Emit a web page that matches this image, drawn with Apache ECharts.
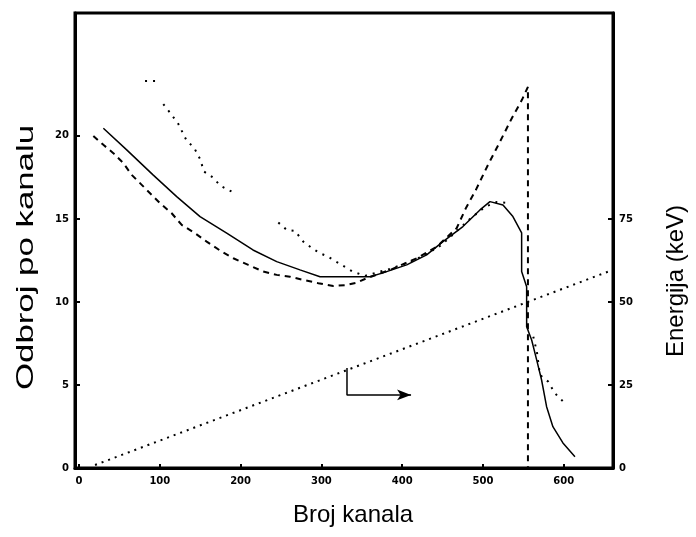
<!DOCTYPE html>
<html>
<head>
<meta charset="utf-8">
<script src="https://cdn.jsdelivr.net/npm/echarts@6/dist/echarts.min.js"></script>
<style>html,body{margin:0;padding:0;background:#fff;}#c{width:696px;height:537px;}</style>
</head>
<body>
<div id="c"></div>
<script>
// Tick labels
var xTicks = [0, 100, 200, 300, 400, 500, 600];
var leftTicks = [0, 5, 10, 15, 20];
var rightTicks = [0, 25, 50, 75];

// Solid curve: counts per channel
var solidCurve = [
  [30.1, 20.46], [59.0, 19.16], [91.6, 17.65], [120.9, 16.34], [149.8, 15.14],
  [182.8, 14.14], [215.3, 13.13], [244.7, 12.43], [273.5, 11.93], [298.3, 11.52],
  [347.8, 11.52], [360.1, 11.52], [376.2, 11.75], [405.6, 12.23], [430.3, 12.83],
  [450.5, 13.63], [475.2, 14.54], [496.3, 15.54], [508.7, 16.04], [524.8, 15.84],
  [537.1, 15.14], [547.9, 14.16], [547.9, 11.83], [554.1, 10.92], [554.1, 8.51],
  [560.3, 7.71], [566.5, 6.51], [572.6, 5.30], [578.8, 3.69], [586.6, 2.49],
  [599.0, 1.51], [613.9, 0.68]
];

// Dashed curve (ends with the vertical dashed line)
var dashedCurve = [
  [17.7, 20.0], [30.1, 19.46], [42.5, 18.96], [54.8, 18.36], [65.2, 17.65],
  [77.6, 17.05], [87.9, 16.55], [100.2, 15.95], [114.7, 15.34], [127.1, 14.64],
  [143.6, 14.14], [158.0, 13.63], [176.6, 13.03], [191.0, 12.63], [209.5, 12.23],
  [228.1, 11.83], [244.7, 11.63], [261.1, 11.52], [277.6, 11.33], [296.2, 11.13],
  [314.7, 10.96], [331.3, 11.02], [343.7, 11.16], [356.1, 11.43], [385.1, 11.93],
  [418.1, 12.63], [442.9, 13.33], [467.4, 14.44], [479.0, 15.66], [491.3, 16.75],
  [506.2, 18.25], [521.0, 19.64], [535.9, 21.08], [548.3, 22.17], [555.7, 22.95],
  [555.7, 0]
];

// Sparse dotted curve
var dottedCurve = [
  [81.7, 23.31], [94.1, 23.31], null,
  [104.3, 21.91], [112.6, 21.40], [122.9, 20.72], [133.3, 19.70], [142.3, 19.30],
  [149.8, 18.61], [154.7, 17.85], [164.2, 17.55], [175.4, 16.99], [184.8, 16.75],
  [194.3, 16.51], null,
  [246.7, 14.78], [257.1, 14.34], [267.3, 14.28], [277.6, 13.63], [288.7, 13.23],
  [298.3, 12.93], [306.6, 12.77], [314.7, 12.53], [327.1, 12.17], [338.7, 11.83],
  [353.9, 11.57], [384.9, 11.99], [409.7, 12.41], [428.2, 12.83], [446.8, 13.37],
  [465.3, 14.16], [483.9, 15.0], [502.5, 15.72], [517.3, 16.02], [529.7, 15.96], null,
  [562.3, 7.91], [566.8, 6.99], [570.5, 5.60], [580.8, 5.20], [589.1, 4.50], [601.5, 3.90]
];

// Energy calibration line (right axis, keV)
var energyLine = [[19.8, 0.9], [654.7, 59.1]];

// Arrow pointing to right axis
var arrowPath = [[331.7, 6.02], [331.7, 4.40], [411.0, 4.40]];

var chart = echarts.init(document.getElementById('c'));
var tickFont = { fontFamily: 'DejaVu Sans', fontWeight: 'bold', fontSize: 10, color: '#000' };

var arrowData = arrowPath.map(function (p, i) {
  if (i === arrowPath.length - 1) {
    return { value: p, symbol: 'arrow', symbolSize: [8, 14], symbolRotate: -90 };
  }
  return { value: p, symbol: 'none' };
});

chart.setOption({
  animation: false,
  backgroundColor: '#fff',
  grid: { left: 75, right: 83, top: 13, bottom: 69, show: true, borderColor: '#000', borderWidth: 3 },
  xAxis: {
    type: 'value', min: -5, max: 661,
    axisLine: { show: true, onZero: false, lineStyle: { color: '#000', width: 3 } },
    axisTick: { show: true, inside: true, length: 4, customValues: xTicks, lineStyle: { color: '#000', width: 2 } },
    axisLabel: Object.assign({ customValues: xTicks, margin: 8 }, tickFont),
    splitLine: { show: false }
  },
  yAxis: [
    {
      type: 'value', min: 0, max: 27.4, position: 'left',
      axisLine: { show: true, onZero: false, lineStyle: { color: '#000', width: 3 } },
      axisTick: { show: true, inside: true, length: 5, customValues: leftTicks, lineStyle: { color: '#000', width: 2 } },
      axisLabel: Object.assign({ customValues: leftTicks, margin: 6 }, tickFont),
      splitLine: { show: false }
    },
    {
      type: 'value', min: 0, max: 137, position: 'right',
      axisLine: { show: true, onZero: false, lineStyle: { color: '#000', width: 3 } },
      axisTick: { show: true, inside: true, length: 5, customValues: rightTicks, lineStyle: { color: '#000', width: 2 } },
      axisLabel: Object.assign({ customValues: rightTicks, margin: 6 }, tickFont),
      splitLine: { show: false }
    }
  ],
  graphic: [
    { type: 'text', left: 293, top: 503, style: { text: 'Broj kanala', font: '24px "Liberation Sans", Arial, sans-serif', fill: '#000' } },
    { type: 'text', x: 14, y: 390, rotation: Math.PI / 2, scaleX: 1.45, style: { text: 'Odbroj po kanalu', font: '24px "Liberation Sans", Arial, sans-serif', fill: '#000', textVerticalAlign: 'top' } },
    { type: 'text', x: 664, y: 357, rotation: Math.PI / 2, style: { text: 'Energija (keV)', font: '24px "Liberation Sans", Arial, sans-serif', fill: '#000', textVerticalAlign: 'top' } }
  ],
  series: [
    { type: 'line', data: solidCurve, symbol: 'none', lineStyle: { color: '#000', width: 1.5 }, z: 3 },
    { type: 'line', data: dashedCurve, symbol: 'none', lineStyle: { color: '#000', width: 2, type: [6, 5] }, z: 3 },
    { type: 'line', data: dottedCurve, symbol: 'none', connectNulls: false, lineStyle: { color: '#000', width: 2, type: [2, 6] }, z: 3 },
    { type: 'line', yAxisIndex: 1, data: energyLine, symbol: 'none', lineStyle: { color: '#000', width: 2, type: [2, 5] }, z: 3 },
    { type: 'line', data: arrowData, showSymbol: true, lineStyle: { color: '#000', width: 1.5 }, itemStyle: { color: '#000' }, z: 4 }
  ]
});
</script>
</body>
</html>
